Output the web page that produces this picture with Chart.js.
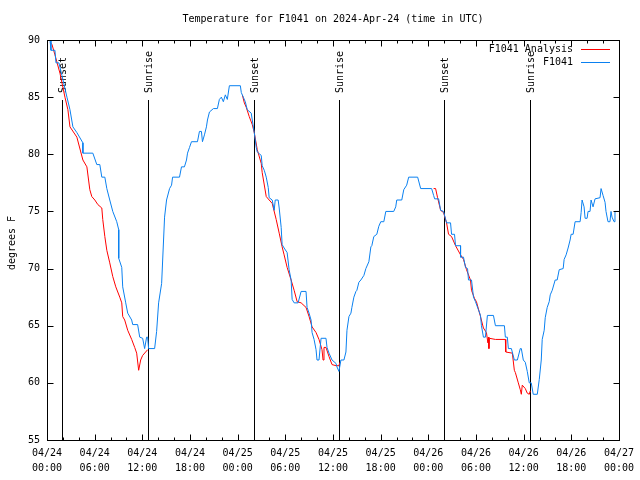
<!DOCTYPE html>
<html><head><meta charset="utf-8">
<script src="https://cdn.jsdelivr.net/npm/chart.js@4"></script>
<style>html,body{margin:0;padding:0;background:#fff}canvas{display:block}</style>
</head><body>
<canvas id="c" width="640" height="480"></canvas>
<script>
const chartTitle = 'Temperature for F1041 on 2024-Apr-24 (time in UTC)';
const yAxisTitle = 'degrees F';
const obsLabel = 'F1041';
const anaLabel = 'F1041 Analysis';
const xTickLabels = [['04/24','00:00'],['04/24','06:00'],['04/24','12:00'],['04/24','18:00'],['04/25','00:00'],['04/25','06:00'],['04/25','12:00'],['04/25','18:00'],['04/26','00:00'],['04/26','06:00'],['04/26','12:00'],['04/26','18:00'],['04/27','00:00']];
const yTickValues = [55,60,65,70,75,80,85,90];
const eventHours = [1.92, 12.71, 26.0, 36.82, 49.96, 60.78];
const eventLabels = ['Sunset','Sunrise','Sunset','Sunrise','Sunset','Sunrise'];

// F1041 observations (hours since 04/24 00:00 UTC, degrees F)
const obsHours = [0.00,0.38,0.50,1.00,1.13,1.50,1.88,2.51,2.89,3.26,3.76,4.52,4.52,5.77,6.27,6.65,6.90,7.28,7.53,7.90,8.28,8.78,9.03,9.03,9.41,9.53,9.91,10.16,10.66,10.79,11.41,11.67,12.04,12.29,12.54,12.67,12.79,13.55,13.80,14.05,14.43,14.80,15.05,15.43,15.68,15.81,16.68,16.93,17.30,17.56,17.69,17.94,18.19,18.94,19.19,19.44,19.57,19.82,20.07,20.20,20.45,20.95,21.45,21.70,21.95,22.20,22.45,22.70,22.96,24.34,24.46,24.71,24.96,25.21,25.71,25.84,26.09,26.34,26.47,26.97,27.09,27.35,27.60,27.85,27.97,28.35,28.60,28.73,29.10,29.23,29.48,29.60,29.85,30.23,30.48,30.73,30.86,31.11,31.61,31.99,32.61,32.74,32.99,33.24,33.37,33.62,33.87,33.99,34.24,34.50,35.12,35.25,35.50,35.88,36.38,36.50,36.75,37.00,37.38,37.63,37.76,38.01,38.26,38.38,38.63,38.89,39.01,39.26,39.51,39.89,40.14,40.52,40.77,40.89,41.14,41.52,41.77,42.02,42.40,42.65,43.65,43.90,44.03,44.66,44.91,45.28,45.53,46.66,47.04,48.42,48.67,48.80,49.30,49.55,49.92,50.18,50.30,50.80,50.93,51.30,51.43,52.06,52.06,52.43,52.68,52.94,53.06,53.44,53.69,53.94,54.31,54.57,54.69,54.94,55.19,55.44,56.20,56.45,57.58,57.70,57.95,58.08,58.46,58.83,59.21,59.58,59.71,59.96,60.21,60.46,60.71,60.96,61.21,61.72,61.97,62.22,62.34,62.59,62.72,62.97,63.22,63.35,63.60,63.97,64.22,64.48,64.98,65.10,65.35,65.60,65.85,65.98,66.23,66.48,67.11,67.24,67.36,67.61,67.74,67.99,68.11,68.36,68.49,68.74,68.99,69.62,69.75,70.00,70.25,70.37,70.62,70.87,71.00,71.13,71.38,71.50,72.00];
const obsTemps = [90.0,90.0,89.1,89.1,88.0,88.0,86.9,85.0,83.9,82.4,81.9,81.0,80.1,80.1,79.1,79.1,78.0,78.0,77.0,76.0,75.0,74.1,73.4,70.9,70.1,68.4,67.0,66.1,65.5,65.1,65.1,64.0,63.9,63.0,64.0,64.0,63.0,63.0,64.5,67.0,68.7,74.5,76.0,77.0,77.3,78.0,78.0,78.9,78.9,79.5,80.1,80.6,81.1,81.1,82.0,82.0,81.1,81.7,82.4,83.0,83.7,84.0,84.0,84.8,85.0,84.6,85.2,84.8,86.0,86.0,85.4,85.0,84.6,83.9,83.6,83.0,81.9,80.6,80.2,79.9,79.0,78.6,78.0,77.1,76.2,76.0,75.1,76.0,76.0,75.3,73.6,72.1,71.8,71.4,69.9,69.0,67.3,67.0,67.0,68.0,68.0,66.6,66.1,65.5,64.4,63.8,62.9,62.0,62.0,63.9,63.9,63.1,62.6,62.0,61.7,61.4,61.0,62.0,62.0,62.7,64.6,65.8,66.1,66.6,67.5,68.0,68.1,68.8,69.0,69.4,70.0,70.6,71.9,72.0,72.8,73.0,73.7,74.1,74.1,75.0,75.0,75.4,76.0,76.0,76.9,77.3,78.0,78.0,77.0,77.0,76.4,76.1,76.1,75.1,75.0,74.3,74.0,74.0,73.0,73.0,72.0,72.0,71.0,71.0,70.1,70.0,69.0,69.0,67.5,67.1,66.4,65.9,65.0,64.0,64.0,65.9,65.9,65.0,65.0,64.0,64.0,63.0,63.0,62.0,62.0,63.0,63.0,62.0,61.8,61.0,60.0,60.0,59.0,59.0,60.3,62.0,63.8,64.6,65.7,66.6,67.1,67.7,68.1,69.0,69.0,69.9,70.0,70.8,71.2,71.8,72.5,73.0,73.0,74.1,74.1,74.9,76.0,75.4,74.4,74.4,75.0,75.0,76.0,75.4,76.1,76.2,77.0,76.4,75.8,75.0,74.1,74.1,75.0,74.5,74.1,75.0,75.0];

// F1041 analysis (null = gap between nightly segments)
const anaHours = [0.40,0.63,1.00,1.63,2.26,2.63,2.89,3.76,4.52,5.02,5.39,5.64,6.02,6.40,6.90,7.02,7.28,7.53,7.90,8.28,8.66,9.16,9.41,9.53,9.78,10.16,10.66,11.04,11.29,11.54,11.79,12.04,12.67,18.0,24.59,24.84,25.09,25.46,25.84,26.09,26.47,26.97,27.09,27.60,27.97,28.35,28.85,29.23,29.60,29.85,30.23,30.73,31.11,31.49,31.99,32.61,32.99,33.37,33.87,34.24,34.62,34.75,34.87,35.12,35.50,35.88,36.38,36.75,36.88,42.0,48.67,48.92,49.17,49.55,49.92,50.30,50.55,50.93,51.43,52.06,52.43,52.81,53.31,53.44,53.81,54.06,54.57,54.94,55.32,55.50,55.57,55.63,55.69,56.45,57.70,57.75,58.58,58.83,58.96,59.33,59.58,59.71,59.83,60.21,60.46,60.71,60.84];
const anaTemps = [89.8,89.6,88.7,87.1,85.0,83.9,82.4,81.5,79.5,78.9,76.9,76.3,76.0,75.6,75.3,74.3,72.8,71.6,70.5,69.3,68.4,67.5,67.0,65.8,65.5,64.6,63.8,63.1,62.6,61.1,62.0,62.4,62.9,null,85.2,84.5,84.1,83.3,82.6,81.9,80.4,79.2,78.4,76.3,76.0,75.7,74.3,73.1,71.9,71.2,70.1,69.0,68.1,67.1,67.0,66.6,65.8,64.9,64.4,63.8,62.9,62.0,63.1,63.1,62.3,61.6,61.5,61.5,61.8,null,77.0,77.0,76.2,75.1,74.9,74.0,73.0,72.8,72.0,71.2,70.8,69.9,69.0,68.1,67.4,67.1,65.8,64.8,64.4,63.5,64.0,63.0,63.9,63.8,63.8,62.7,62.6,61.1,60.9,60.0,59.4,59.0,59.8,59.5,59.1,59.0,59.3];

const FONT = '"DejaVu Sans Mono", "Liberation Mono", monospace';
const BLUE = '#0a80f0';
const RED = '#ff0000';

const decor = {
  id: 'decor',
  beforeDatasetsDraw(chart) {
    const {ctx, chartArea: a, scales: {x}} = chart;
    ctx.save();
    ctx.strokeStyle = '#000';
    ctx.fillStyle = '#000';
    ctx.lineWidth = 1;
    ctx.font = '10px ' + FONT;
    eventHours.forEach((h, i) => {
      const px = Math.round(x.getPixelForValue(h)) + 0.5;
      ctx.beginPath();
      ctx.moveTo(px, a.top + 60);
      ctx.lineTo(px, a.bottom);
      ctx.stroke();
      ctx.save();
      ctx.translate(px + 1, a.top + 53);
      ctx.rotate(-Math.PI / 2);
      ctx.textAlign = 'left';
      ctx.textBaseline = 'middle';
      ctx.fillText(eventLabels[i], 0, 0);
      ctx.restore();
    });
    ctx.restore();
  },
  afterDraw(chart) {
    const {ctx, chartArea: a, scales: {x, y}} = chart;
    ctx.save();
    ctx.strokeStyle = '#000';
    ctx.lineWidth = 1;
    const L = Math.round(a.left) + 0.5, R = Math.round(a.right) + 0.5;
    const T = Math.round(a.top) + 0.5, B = Math.round(a.bottom) + 0.5;
    ctx.strokeRect(L, T, R - L, B - T);
    ctx.beginPath();
    for (let h = 0; h <= 72; h += 2) {
      const px = Math.round(x.getPixelForValue(h)) + 0.5;
      const len = (h % 6 === 0) ? 6 : 3;
      ctx.moveTo(px, B); ctx.lineTo(px, B - len);
      ctx.moveTo(px, T); ctx.lineTo(px, T + len);
    }
    yTickValues.forEach(v => {
      const py = Math.round(y.getPixelForValue(v)) + 0.5;
      ctx.moveTo(L, py); ctx.lineTo(L + 6, py);
      ctx.moveTo(R, py); ctx.lineTo(R - 6, py);
    });
    ctx.stroke();

    ctx.fillStyle = '#000';
    ctx.font = '10px ' + FONT;
    ctx.textAlign = 'center';
    ctx.textBaseline = 'middle';
    ctx.fillText(chartTitle, (a.left + a.right) / 2, 19);

    ctx.save();
    ctx.translate(12, (a.top + a.bottom) / 2 + 3);
    ctx.rotate(-Math.PI / 2);
    ctx.fillText(yAxisTitle, 0, 0);
    ctx.restore();

    // legend
    ctx.textAlign = 'right';
    ctx.fillText(anaLabel, 573, 49);
    ctx.fillText(obsLabel, 573, 62);
    ctx.lineWidth = 1;
    ctx.strokeStyle = RED;
    ctx.beginPath(); ctx.moveTo(581, 49.5); ctx.lineTo(610, 49.5); ctx.stroke();
    ctx.strokeStyle = BLUE;
    ctx.beginPath(); ctx.moveTo(581, 62.5); ctx.lineTo(610, 62.5); ctx.stroke();
    ctx.restore();
  }
};

new Chart(document.getElementById('c'), {
  type: 'line',
  data: {
    datasets: [
      {label: obsLabel, data: obsHours.map((h, i) => ({x: h, y: obsTemps[i]})), borderColor: BLUE, borderWidth: 1, pointRadius: 0, tension: 0, fill: false},
      {label: anaLabel, data: anaHours.map((h, i) => ({x: h, y: anaTemps[i]})), borderColor: RED, borderWidth: 1, pointRadius: 0, tension: 0, fill: false, spanGaps: false}
    ]
  },
  options: {
    responsive: false,
    animation: false,
    devicePixelRatio: 1,
    layout: {padding: {top: 40, right: 19, left: 0, bottom: 0}},
    plugins: {legend: {display: false}, title: {display: false}, tooltip: {enabled: false}},
    scales: {
      x: {
        type: 'linear', min: 0, max: 72,
        afterFit(s) { s.height = 40; },
        afterBuildTicks(s) { s.ticks = xTickLabels.map((_, i) => ({value: i * 6})); },
        grid: {display: false, drawTicks: false},
        border: {display: false},
        ticks: {autoSkip: false, maxRotation: 0, padding: 6, color: '#000',
          font: {family: FONT, size: 10, lineHeight: 1.5},
          callback: (v) => xTickLabels[Math.round(v / 6)]}
      },
      y: {
        min: 55, max: 90,
        afterFit(s) { s.width = 47; },
        afterBuildTicks(s) { s.ticks = yTickValues.map(v => ({value: v})); },
        grid: {display: false, drawTicks: false},
        border: {display: false},
        ticks: {padding: 7, color: '#000', font: {family: FONT, size: 10}}
      }
    }
  },
  plugins: [decor]
});
</script>
</body></html>
